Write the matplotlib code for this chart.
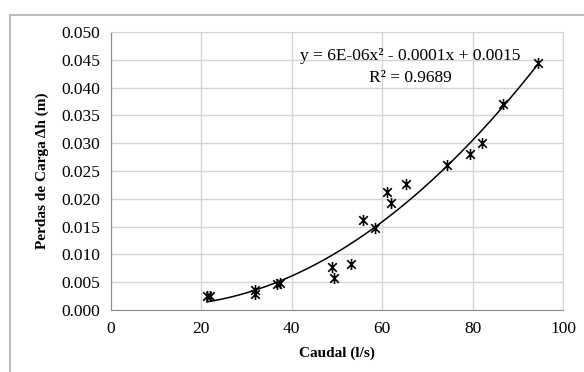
import numpy as np
import matplotlib
matplotlib.use("Agg")
import matplotlib.pyplot as plt
from matplotlib.path import Path
from matplotlib.patches import Rectangle

caudal = [21.2, 22.0, 31.9, 31.9, 36.7, 37.4, 48.9, 49.3, 53.1, 55.7,
          58.3, 61.1, 62.0, 65.3, 74.3, 79.4, 82.0, 86.8, 94.5]
perdas = [0.0025, 0.0025, 0.0036, 0.0029, 0.0047, 0.0048, 0.0078, 0.0057, 0.0083, 0.0161,
          0.0148, 0.0212, 0.0193, 0.0226, 0.0260, 0.0281, 0.0300, 0.0371, 0.0444]
eq_text = "y = 6E-06x² - 0.0001x + 0.0015\nR² = 0.9689"

plt.rcParams['font.family'] = ['Liberation Serif', 'DejaVu Serif']

# Excel-style star marker: an x plus a vertical bar
star = Path([(-1, -1), (1, 1), (-1, 1), (1, -1), (0, -1.3), (0, 1.3)],
            [Path.MOVETO, Path.LINETO, Path.MOVETO, Path.LINETO, Path.MOVETO, Path.LINETO])

fig = plt.figure(figsize=(5.84, 3.72), dpi=100)
fig.patches.append(Rectangle((10 / 584, -0.5), 2, 1.5 - 15 / 372, transform=fig.transFigure,
                             fill=False, edgecolor='#b0b0b0', linewidth=1.2))
ax = fig.add_axes([111 / 584, 1 - 310 / 372, 452 / 584, 278 / 372])

coef = np.polyfit(caudal, perdas, 2)
xs = np.linspace(min(caudal), max(caudal), 200)
ax.plot(xs, np.polyval(coef, xs), color='black', linewidth=1.1, zorder=3)
ax.plot(caudal, perdas, linestyle='none', marker=star, markersize=8,
        markerfacecolor='none', markeredgecolor='black', markeredgewidth=1.2, zorder=4)

ax.set_xlim(0, 100)
ax.set_ylim(0, 0.05)
ax.set_xticks(np.arange(0, 101, 20))
ax.set_yticks(np.arange(0, 0.0501, 0.005))
ax.yaxis.set_major_formatter(matplotlib.ticker.FormatStrFormatter('%.3f'))
ax.grid(True, color='#d4d4d4', linewidth=1)
ax.set_axisbelow(True)
ax.tick_params(length=0, labelsize=12.5, pad=8)
for s in ax.spines.values():
    s.set_color('#d4d4d4')
ax.spines['bottom'].set_color('#8c8c8c')
ax.spines['left'].set_color('#8c8c8c')

ax.set_xlabel('Caudal (l/s)', fontsize=11, fontweight='bold', labelpad=7)
ax.set_ylabel('Perdas de Carga Δh (m)', fontsize=11, fontweight='bold', labelpad=9)

ax.text(410 / 584, 1 - 67 / 372, eq_text, transform=fig.transFigure, fontsize=12.5,
        ha='center', va='center', multialignment='center', linespacing=1.45)

fig.savefig('out.png', dpi=100)
